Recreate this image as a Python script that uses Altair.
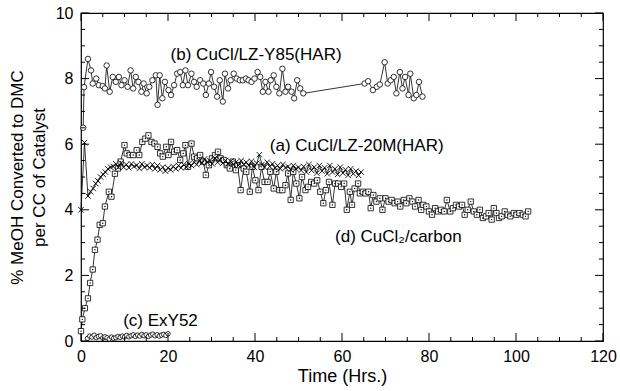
import altair as alt
import pandas as pd

# ---------------- data ----------------
# (b) CuCl/LZ-Y85(HAR) -- circles
b_t = [0.5, 0.7, 1.6, 2.3, 2.7, 3.5, 4.1, 5.0, 5.5, 5.9, 6.6, 7.3, 8.0, 8.7, 9.3, 10.0,
       10.7, 11.4, 12.0, 12.6, 13.2, 13.9, 14.4, 15.1, 15.7, 16.4, 17.2, 17.6, 18.1, 18.7,
       19.3, 20.1, 20.7, 21.4, 22.1, 22.8, 23.4, 24.0, 24.6, 25.4, 26.0, 26.6, 27.4, 28.1,
       28.7, 29.4, 29.9, 30.6, 31.3, 31.9, 32.6, 33.1, 33.8, 34.4, 35.1, 35.8, 36.5, 37.2,
       37.9, 38.5, 39.2, 39.9, 40.6, 41.2, 41.8, 42.4, 43.1, 43.6, 44.3, 44.9, 45.6, 46.3,
       47.0, 47.6, 48.4, 49.0, 49.7, 50.4, 51.1, 65.2, 66.0, 67.1, 68.0, 68.7, 69.8, 70.5,
       71.2, 71.9, 72.5, 73.3, 73.9, 74.5, 75.3, 75.7, 76.5, 77.1, 77.7, 78.5]
b_v = [6.5, 7.74, 8.6, 8.25, 7.85, 8.0, 7.8, 7.77, 7.7, 8.4, 7.6, 8.05, 7.9, 8.05, 7.8, 7.95,
       7.75, 8.25, 7.7, 8.05, 7.9, 7.6, 7.85, 7.55, 7.75, 7.95, 8.1, 7.2, 8.1, 7.4,
       7.9, 7.65, 7.5, 7.8, 8.15, 8.2, 7.8, 8.25, 7.8, 8.15, 7.9, 7.75, 7.95, 7.85,
       7.5, 7.85, 8.2, 7.75, 7.45, 7.95, 7.3, 8.15, 7.7, 7.95, 8.15, 8.0, 7.95, 7.95,
       8.0, 7.95, 7.9, 8.0, 8.2, 8.05, 7.6, 7.9, 7.6, 7.95, 8.1, 7.75, 7.55, 8.3,
       7.6, 7.75, 7.6, 7.4, 7.95, 7.7, 7.55, 7.85, 7.92, 7.65, 7.75, 7.82, 8.5, 7.85,
       7.95, 8.05, 7.55, 8.2, 7.7, 8.05, 7.5, 8.15, 7.4, 7.5, 7.9, 7.45]

# (a) CuCl/LZ-20M(HAR) -- crosses
a_t = [0.0, 0.8, 1.6, 2.2, 2.8, 3.4, 3.9, 4.5, 5.1, 5.6, 6.2, 6.8, 7.4,
       8.0, 8.6, 9.2, 9.8, 10.4, 11.0, 11.6, 12.2, 12.8, 13.4, 14.0, 14.6, 15.2, 15.8,
       16.4, 17.0, 17.6, 18.2, 18.8, 19.4, 20.0, 20.6, 21.2, 21.8, 22.4, 23.0, 23.6, 24.2, 24.8,
       25.4, 26.0, 26.6, 27.2, 27.8, 28.4, 29.0, 29.6, 30.2, 30.8, 31.4, 32.0, 32.6, 33.2,
       33.8, 34.4, 35.0,
       35.6, 36.2, 36.8, 37.4, 38.0, 38.6, 39.2, 39.8, 40.4, 41.0, 41.6, 42.2, 42.8, 43.4,
       44.0, 44.6, 45.2, 45.8, 46.4, 47.0, 47.6, 48.2, 48.8, 49.4, 50.0,
       50.6, 51.2, 51.8, 52.4, 53.0, 53.6, 54.2, 54.8, 55.4, 56.0, 56.6, 57.2, 57.8, 58.4,
       59.0, 59.6, 60.2, 60.8, 61.4, 62.0, 62.6, 63.2, 63.8, 64.4]
a_v = [4.0, 6.05, 4.42, 4.55, 4.65, 4.8, 4.88, 5.0, 5.08, 5.15, 5.25, 5.3, 5.32,
       5.4, 5.3, 5.42, 5.3, 5.38, 5.28, 5.4, 5.32, 5.36, 5.26, 5.4, 5.3, 5.35, 5.28,
       5.38, 5.25, 5.35, 5.22, 5.3, 5.18, 5.28, 5.22, 5.32, 5.25, 5.35, 5.28, 5.38, 5.3, 5.4,
       5.35, 5.45, 5.38, 5.5, 5.42, 5.55, 5.45, 5.5, 5.4, 5.58, 5.45, 5.52, 5.42, 5.5,
       5.4, 5.48, 5.38,
       5.45, 5.35, 5.5, 5.38, 5.45, 5.35, 5.48, 5.3, 5.42, 5.68, 5.38, 5.3, 5.45, 5.32,
       5.4, 5.28, 5.35, 5.25, 5.38, 5.28, 5.32, 5.22, 5.35, 5.25, 5.3,
       5.2, 5.32, 5.15, 5.38, 5.2, 5.3, 5.12, 5.35, 5.18, 5.28, 5.1, 5.35, 5.15, 5.25,
       5.08, 5.3, 5.12, 5.22, 5.05, 5.25, 5.1, 5.18, 5.05, 5.15]

# (d) CuCl2/carbon -- squares
d_t = [0.0, 0.3, 0.9, 1.6, 2.1, 2.7, 3.2, 3.8, 4.3, 5.0, 5.5, 6.4, 7.0, 7.8, 8.5, 9.1,
       10.0, 10.5, 11.2, 12.0, 12.8, 13.4, 14.1, 14.8, 15.5, 16.2, 16.9, 17.6, 18.2, 18.8,
       19.6, 20.1, 20.7, 21.4, 22.1, 22.8, 23.5, 24.0, 24.6, 25.4, 26.0, 26.7, 27.4, 28.1,
       28.7, 29.4, 30.1, 30.8, 31.5, 32.1, 32.8, 33.5, 34.2, 34.9, 35.6, 36.0, 36.7, 37.4,
       38.0, 38.8, 39.4, 40.1, 40.8, 41.5, 42.2, 42.9, 43.5, 44.3, 44.9, 45.6, 46.3, 47.0,
       47.6, 48.2, 48.8, 49.5, 50.2, 50.8, 51.6, 52.2, 52.9, 53.6, 54.3, 55.0, 55.7, 56.3,
       57.0, 57.8, 58.4, 59.1, 59.8, 60.5, 61.1, 61.8, 62.3, 62.9, 63.7, 64.1, 64.8, 65.4,
       66.1, 66.6, 67.2, 67.9, 68.7, 69.3, 70.0, 70.7, 71.4, 72.1, 72.8, 73.4, 74.2, 74.8,
       75.5, 76.2, 76.8, 77.6, 78.2, 78.7, 79.4, 80.0, 80.7, 81.4, 82.1, 82.8, 83.5, 84.1,
       84.9, 85.5, 86.2, 86.9, 87.6, 88.2, 88.9, 89.6, 90.3, 91.0, 91.7, 92.4, 93.1, 93.7,
       94.4, 94.9, 95.5, 96.1, 96.7, 97.4, 98.1, 98.7, 99.5, 100.1, 100.8, 101.6, 102.2, 102.8]
d_v = [0.3, 0.66, 1.0, 1.3, 1.77, 2.18, 2.78, 3.09, 3.54, 3.59, 4.1, 4.55, 4.4, 5.1, 5.26, 5.47,
       5.97, 5.72, 5.67, 5.67, 5.82, 5.67, 6.07, 6.17, 6.27, 6.07, 6.02, 5.92, 5.72, 5.62,
       5.92, 5.67, 6.07, 5.77, 5.82, 5.52, 5.72, 5.97, 5.31, 6.02, 5.62, 5.57, 5.67, 5.47,
       5.06, 5.36, 5.57, 5.67, 5.77, 5.57, 5.52, 5.36, 5.26, 5.47, 5.21, 5.36, 4.6, 5.26,
       5.16, 4.55, 5.31, 4.9, 4.6, 5.31, 4.85, 4.85, 5.16, 4.65, 5.16, 4.6, 4.6, 4.75,
       5.11, 4.3, 5.16, 4.8, 4.35, 5.0, 4.6, 4.7, 4.85, 4.8, 4.9, 4.55, 4.2, 4.6,
       4.85, 4.15, 4.8, 4.8, 4.7, 4.8, 4.0, 4.55, 4.15, 4.65, 4.8, 4.5, 4.55, 4.5,
       4.55, 4.05, 4.45, 4.25, 4.35, 4.0, 4.35, 4.25, 4.3, 4.2, 4.25, 4.1, 4.3, 4.2,
       4.35, 4.25, 4.1, 4.3, 4.0, 4.15, 4.1, 3.95, 3.85, 4.05, 3.95, 4.0, 3.95, 4.3,
       3.95, 4.05, 4.15, 4.1, 4.15, 3.85, 4.0, 4.25, 3.95, 3.85, 4.0, 3.75, 3.8, 3.9,
       3.7, 4.05, 3.9, 3.75, 3.8, 3.95, 3.85, 3.8, 3.9, 3.85, 3.9, 3.85, 3.8, 3.95]

# (c) ExY52 -- small circles near zero
c_t = [1.5, 2.0, 2.5, 3.0, 3.5, 4.0, 4.5, 5.0, 5.5, 6.0, 6.5, 7.0, 7.5, 8.0, 8.5, 9.0,
       9.5, 10.0, 10.5, 11.0, 11.5, 12.0, 12.5, 13.0, 13.5, 14.0, 14.5, 15.0, 15.5, 16.0,
       16.5, 17.0, 17.5, 18.0, 18.5, 19.0, 19.5, 20.0]
c_v = [0.08, 0.15, 0.12, 0.18, 0.1, 0.14, 0.16, 0.09, 0.13, 0.1, 0.06, 0.12, 0.08, 0.1,
       0.14, 0.11, 0.15, 0.12, 0.17, 0.13, 0.16, 0.19, 0.14, 0.18, 0.15, 0.2, 0.16, 0.19,
       0.14, 0.18, 0.21, 0.16, 0.19, 0.15, 0.18, 0.2, 0.17, 0.22]

# annotations
ann_t = [20.6, 43.4, 58.4, 9.7]
ann_v = [8.72, 5.95, 3.17, 0.6]
ann_txt = ["(b)  CuCl/LZ-Y85(HAR)", "(a)  CuCl/LZ-20M(HAR)", "(d)  CuCl\u2082/carbon", "(c)  ExY52"]

# tick positions
x_major = [0, 20, 40, 60, 80, 100, 120]
x_minor = [5, 10, 15, 25, 30, 35, 45, 50, 55, 65, 70, 75, 85, 90, 95, 105, 110, 115]
y_major = [0, 2, 4, 6, 8, 10]
y_minor = [0.5, 1, 1.5, 2.5, 3, 3.5, 4.5, 5, 5.5, 6.5, 7, 7.5, 8.5, 9, 9.5]

# ---------------- chart ----------------
W, H = 522, 328
FONT = "Liberation Sans"

xs = alt.Scale(domain=[0, 120], nice=False)
ys = alt.Scale(domain=[0, 10], nice=False)

x_axis = alt.Axis(values=x_major, title="Time  (Hrs.)", ticks=False, domain=False,
                  grid=False, labelFlush=False, labelPadding=7, titlePadding=3,
                  labelFontSize=16, titleFontSize=18, format="d")
y_axis = alt.Axis(values=y_major, title=["% MeOH Converted to DMC", "per CC of Catalyst"],
                  ticks=False, domain=False, grid=False, labelPadding=8, titlePadding=7,
                  labelFontSize=16, titleFontSize=17, titleLineHeight=22, format="d")

X = alt.X("t:Q", scale=xs, axis=x_axis)
Y = alt.Y("v:Q", scale=ys, axis=y_axis)


def df(t, v):
    return pd.DataFrame({"t": t, "v": v})


def series(t, v, shape, size, dot=False):
    d = df(t, v)
    base = alt.Chart(d)
    line = base.mark_line(color="black", strokeWidth=0.8).encode(x=X, y=Y, order="t:Q")
    pts = base.mark_point(shape=shape, size=size, filled=False, color="black",
                          fill="white", fillOpacity=1, strokeWidth=0.8, opacity=1).encode(x=X, y=Y)
    layers = [line, pts]
    if dot:
        layers.append(base.mark_point(shape="circle", size=2, filled=True, color="black",
                                      opacity=1).encode(x=X, y=Y))
    return layers


cross_path = "M-1,-1L1,1M-1,1L1,-1"
xa = alt.Chart(df(a_t, a_v))
a_layers = [
    xa.mark_line(color="black", strokeWidth=0.8).encode(x=X, y=Y, order="t:Q"),
    xa.mark_point(shape=cross_path, size=30, filled=False, color="black",
                  strokeWidth=0.9, opacity=1).encode(x=X, y=Y),
]

layers = []
layers += series(d_t, d_v, "square", 28, dot=True)
layers += a_layers
layers += series(b_t, b_v, "circle", 30)
layers += series(c_t, c_v, "circle", 20)

# tick marks (inward, all four sides)
xM = alt.Chart(pd.DataFrame({"t": x_major}))
xm = alt.Chart(pd.DataFrame({"t": x_minor}))
yM = alt.Chart(pd.DataFrame({"v": y_major}))
ym = alt.Chart(pd.DataFrame({"v": y_minor}))
tk = dict(color="black", strokeWidth=1)
layers += [
    xM.mark_rule(**tk).encode(x=X, y=alt.value(H), y2=alt.value(H - 8)),
    xM.mark_rule(**tk).encode(x=X, y=alt.value(0), y2=alt.value(8)),
    xm.mark_rule(**tk).encode(x=X, y=alt.value(H), y2=alt.value(H - 4)),
    xm.mark_rule(**tk).encode(x=X, y=alt.value(0), y2=alt.value(4)),
    yM.mark_rule(**tk).encode(y=Y, x=alt.value(0), x2=alt.value(8)),
    yM.mark_rule(**tk).encode(y=Y, x=alt.value(W), x2=alt.value(W - 8)),
    ym.mark_rule(**tk).encode(y=Y, x=alt.value(0), x2=alt.value(4)),
    ym.mark_rule(**tk).encode(y=Y, x=alt.value(W), x2=alt.value(W - 4)),
]

ann = alt.Chart(pd.DataFrame({"t": ann_t, "v": ann_v, "txt": ann_txt})).mark_text(
    align="left", baseline="middle", fontSize=17, font=FONT, color="black"
).encode(x=X, y=Y, text="txt:N")
layers.append(ann)

chart = alt.layer(*layers).properties(
    width=W, height=H,
    autosize=alt.AutoSizeParams(type="none"),
    padding={"left": 81, "top": 13, "right": 17, "bottom": 50},
    background="white",
).configure_view(stroke="black", strokeWidth=1.2).configure_axis(
    labelFont=FONT, titleFont=FONT, labelColor="black", titleColor="black",
    titleFontWeight="normal"
)

chart.save("out.html", embed_options={"renderer": "svg", "actions": False})
